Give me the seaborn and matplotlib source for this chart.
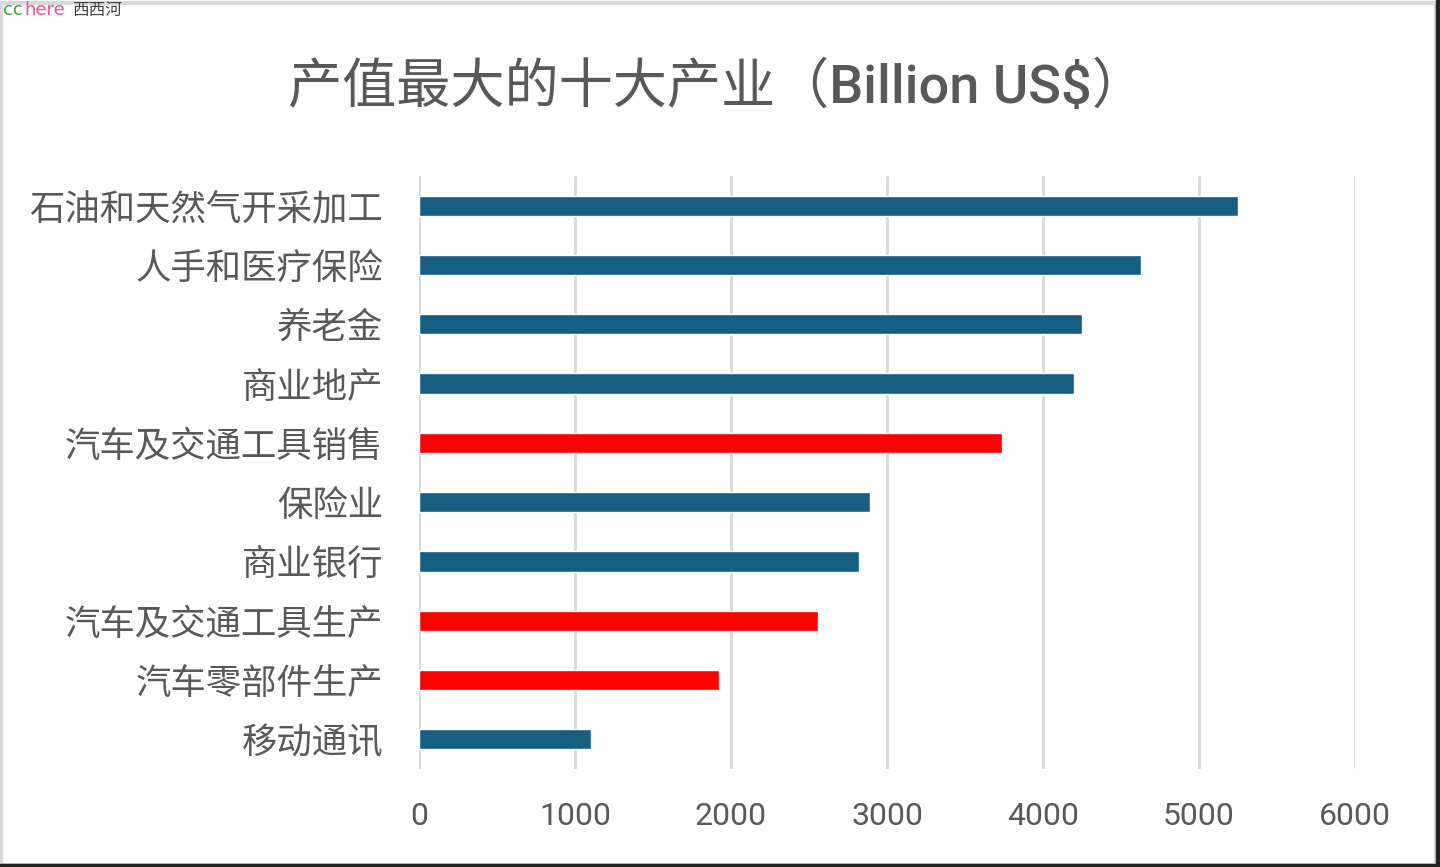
import numpy as np
import pandas as pd
import seaborn as sns
import matplotlib.pyplot as plt
from matplotlib.patches import Rectangle

industries = ['石油和天然气开采加工', '人手和医疗保险', '养老金', '商业地产', '汽车及交通工具销售',
              '保险业', '商业银行', '汽车及交通工具生产', '汽车零部件生产', '移动通讯']
output_value = [5250, 4630, 4250, 4200, 3740, 2890, 2820, 2560, 1920, 1100]
is_auto = [False, False, False, False, True, False, False, True, True, False]

blue = '#175f82'
red = '#ff0000'
text_gray = '#595959'

df = pd.DataFrame({'Industry': industries, 'Value': output_value, 'Auto': is_auto})
bar_colors = [red if a else blue for a in is_auto]

sns.set_style("white")
plt.rcParams['font.family'] = ['Noto Sans CJK SC', 'DejaVu Sans']

fig = plt.figure(figsize=(14.4, 8.67), dpi=100)
ax = fig.add_axes([0.291, 0.113, 0.65, 0.684])

sns.barplot(data=df, x='Value', y='Industry', hue='Industry', palette=bar_colors,
            order=industries, legend=False, width=0.34, ax=ax, saturation=1, orient='h')

ax.set_xlim(0, 6000)
ax.set_ylim(9.5, -0.5)
ax.set_xticks(np.arange(0, 6001, 1000))
ax.xaxis.grid(True, color='#d9d9d9', linewidth=2)
ax.set_axisbelow(True)
for s in ax.spines.values():
    s.set_visible(False)
ax.set(xlabel='', ylabel='')
ax.tick_params(axis='y', length=0, pad=26, labelsize=25.5, labelcolor=text_gray)
ax.tick_params(axis='x', length=0, pad=24, labelsize=23, labelcolor=text_gray)
for lbl in ax.get_xticklabels():
    lbl.set_family(['Roboto', 'DejaVu Sans'])

fig.text(0.498, 0.899, '产值最大的十大产业（Billion US$）', ha='center', va='center',
         fontsize=39, color=text_gray, weight='medium',
         family=['Roboto', 'Noto Sans CJK SC'])

# watermark
fig.text(0.002, 0.988, 'cc', color='#3aa53a', fontsize=13, va='center', family=['DejaVu Sans'])
fig.text(0.017, 0.988, 'here', color='#f04f9a', fontsize=13, va='center', family=['DejaVu Sans'])
fig.text(0.050, 0.988, '西西河', color='#404040', fontsize=12, va='center')

# frame
fig.patches.append(Rectangle((0.001, 0.002), 0.996, 0.994, transform=fig.transFigure,
                             fill=False, edgecolor='#d9d9d9', linewidth=3))
fig.patches.append(Rectangle((0.997, 0.0), 0.003, 1.0, transform=fig.transFigure,
                             color='#222222'))
fig.patches.append(Rectangle((0.0, 0.0), 1.0, 0.004, transform=fig.transFigure,
                             color='#222222'))

plt.savefig('out.png', dpi=100)
